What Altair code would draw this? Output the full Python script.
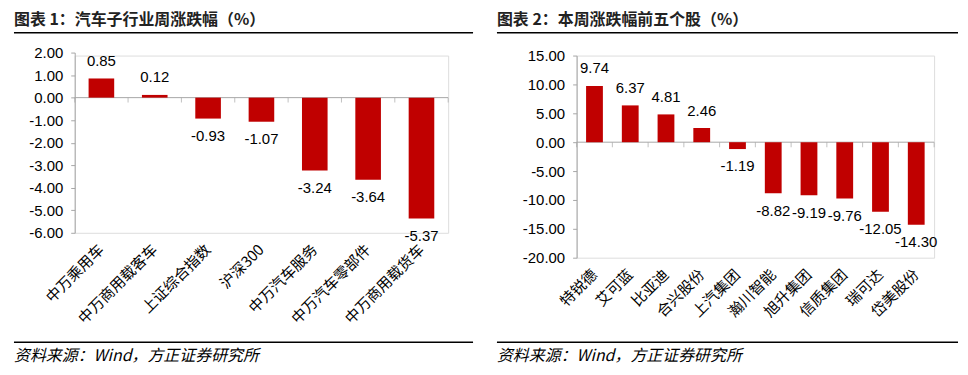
import altair as alt
import pandas as pd

# ---- data ----
cats1 = ["中万乘用车", "中万商用载客车", "上证综合指数", "沪深300", "中万汽车服务", "中万汽车零部件", "中万商用载货车"]
vals1 = [0.85, 0.12, -0.93, -1.07, -3.24, -3.64, -5.37]
ticks1 = [2, 1, 0, -1, -2, -3, -4, -5, -6]

cats2 = ["特锐德", "艾可蓝", "比亚迪", "合兴股份", "上汽集团", "瀚川智能", "旭升集团", "信质集团", "瑞可达", "岱美股份"]
vals2 = [9.74, 6.37, 4.81, 2.46, -1.19, -8.82, -9.19, -9.76, -12.05, -14.30]
ticks2 = [15, 10, 5, 0, -5, -10, -15, -20]

title1 = "图表 1：汽车子行业周涨跌幅（%）"
title2 = "图表 2：本周涨跌幅前五个股（%）"
source = "资料来源：Wind，方正证券研究所"

RED = "#C00000"
AXC = "#A6A6A6"
NUM_FONT = "Liberation Sans"
CJK_FONT = "Noto Sans CJK SC"
LBL_EXPR = "replace(format(datum.value, '.2f'), '\u2212', '-')"


def panel(cats, vals, ticks, W, H, pinner, top_ext):
    df = pd.DataFrame({"cat": cats, "val": vals, "lab": [f"{v:.2f}" for v in vals],
                       "z": [0] * len(cats)})
    n = len(cats)
    step = W / n
    xs = alt.Scale(paddingInner=pinner, paddingOuter=pinner / 2)
    ys = alt.Scale(domain=[min(ticks), max(ticks)], nice=False, zero=False, range=[H, -top_ext])
    xaxis = alt.Axis(labelAngle=-45, labelAlign="right", labelBaseline="middle",
                     labelPadding=14, ticks=False, tickSize=0, domain=False,
                     labelFont=CJK_FONT, labelFontSize=15, labelColor="black",
                     labelOverlap=False, labelLimit=300)
    yaxis = alt.Axis(values=ticks, labelExpr=LBL_EXPR, grid=False, tickSize=4, labelPadding=8,
                     domainColor=AXC, tickColor=AXC, labelFont=NUM_FONT, labelOverlap=False,
                     labelFontSize=15, labelColor="black", tickCount=len(ticks))

    def X(**kw):
        return alt.X("cat:N", sort=cats, scale=xs, title=None, axis=xaxis, **kw)

    def Y(f):
        return alt.Y(f, scale=ys, title=None, axis=yaxis)

    base = alt.Chart(df)
    bars = base.mark_bar(color=RED).encode(x=X(), y=Y("val:Q"))
    pos = base.transform_filter("datum.val >= 0").mark_text(
        dy=-17.5, font=NUM_FONT, fontSize=15, color="black", baseline="middle"
    ).encode(x=X(), y=Y("val:Q"), text="lab:N")
    neg = base.transform_filter("datum.val < 0").mark_text(
        dy=17.5, font=NUM_FONT, fontSize=15, color="black", baseline="middle"
    ).encode(x=X(), y=Y("val:Q"), text="lab:N")

    zero = base.transform_filter(alt.datum.cat == cats[0]).mark_rule(
        color=AXC, strokeWidth=1).encode(x=alt.value(0), x2=alt.value(W), y=Y("z:Q"))
    off = -pinner * step / 2
    tks = base.mark_tick(color=AXC, size=5, thickness=1, orient="vertical",
                         xOffset=off, yOffset=2.5).encode(
        x=X(bandPosition=0), y=Y("z:Q"))
    last = base.transform_filter(alt.datum.cat == cats[-1]).mark_tick(
        color=AXC, size=5, thickness=1, orient="vertical", xOffset=-off, yOffset=2.5).encode(
        x=X(bandPosition=1), y=Y("z:Q"))

    return [zero, tks, last, bars, pos, neg]


def decor(title, left_ext, right_ext, top_off, bot_off):
    one = alt.Data(values=[{}])
    t = alt.Chart(one).mark_text(
        text=title, align="left", baseline="middle", font=CJK_FONT, fontSize=16,
        fontWeight="bold", color="#222222"
    ).encode(x=alt.value(left_ext), y=alt.value(top_off - 13))
    r1 = alt.Chart(one).mark_rule(color="black", strokeWidth=1.5).encode(
        x=alt.value(left_ext), x2=alt.value(right_ext), y=alt.value(top_off))
    r2 = alt.Chart(one).mark_rule(color="black", strokeWidth=1.5).encode(
        x=alt.value(left_ext), x2=alt.value(right_ext), y=alt.value(bot_off))
    s = alt.Chart(one).mark_text(
        text=source, align="left", baseline="middle", font=CJK_FONT, fontSize=16,
        fontStyle="italic", color="black"
    ).encode(x=alt.value(left_ext), y=alt.value(bot_off + 14))
    return [t, r1, r2, s]


# panel 1: plot origin at page y=55, axis top (2.00) 3px above origin
W1, H1 = 375, 178
l1 = panel(cats1, vals1, ticks1, W1, H1, 0.52, 3)
d1 = decor(title1, -61, 400, -23, 288)
chart1 = alt.layer(*l1, *d1).properties(width=W1, height=H1)

W2, H2 = 359, 203
l2 = panel(cats2, vals2, ticks2, W2, H2, 0.53, 0)
d2 = decor(title2, -80, 383, -23, 288)
chart2 = alt.layer(*l2, *d2).properties(width=W2, height=H2)

chart = alt.hconcat(chart1, chart2, spacing=20).properties(
    padding={"left": 4, "top": 2, "right": 0, "bottom": 0}
).configure_view(stroke=None).configure(background="white")

chart.save("out.html", embed_options={"renderer": "svg", "actions": False})
